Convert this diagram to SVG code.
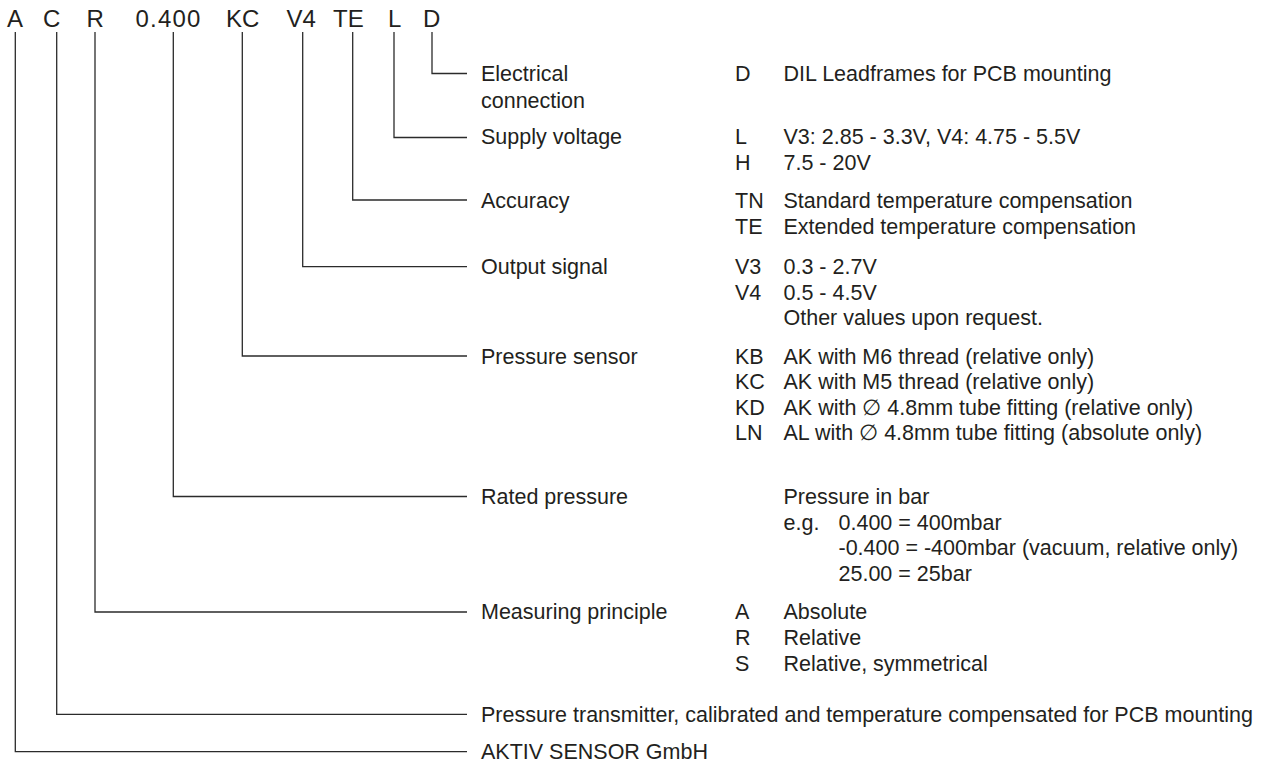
<svg xmlns="http://www.w3.org/2000/svg" width="1266" height="765" viewBox="0 0 1266 765">
<style>
text{font-family:"Liberation Sans",Arial,Helvetica,sans-serif;fill:#231f20}
.h{font-size:24px}
.t{font-size:21.5px}
.c{fill:none;stroke:#2b2b2b;stroke-width:1.3}
</style>
<rect width="1266" height="765" fill="#fff"/>
<g id="code">
<text class="h" x="7" y="27">A</text>
<text class="h" x="43" y="27">C</text>
<text class="h" x="86.5" y="27">R</text>
<text class="h" x="135.5" y="27" letter-spacing="1.2">0.400</text>
<text class="h" x="226" y="27">KC</text>
<text class="h" x="286.5" y="27">V4</text>
<text class="h" x="333" y="27">TE</text>
<text class="h" x="388" y="27">L</text>
<text class="h" x="423" y="27">D</text>
</g>
<g id="connectors">
<path class="c" d="M432,32V73.5H467"/>
<path class="c" d="M394,32V137.5H467"/>
<path class="c" d="M352.7,32V200H467"/>
<path class="c" d="M302.7,32V266.7H467"/>
<path class="c" d="M242.3,32V356H467"/>
<path class="c" d="M173.3,32V496.5H467"/>
<path class="c" d="M95,32V612H467"/>
<path class="c" d="M56.7,32V714.3H467"/>
<path class="c" d="M15.3,32V751.7H467"/>
</g>
<g id="electrical" class="t">
<text class="t" x="481" y="81">Electrical</text>
<text class="t" x="481" y="107.5">connection</text>
<text class="t" x="735" y="81">D</text>
<text class="t" x="783.5" y="81">DIL Leadframes for PCB mounting</text>
</g>
<g id="supply">
<text class="t" x="481" y="144">Supply voltage</text>
<text class="t" x="735" y="144">L</text>
<text class="t" x="783.5" y="144">V3: 2.85 - 3.3V, V4: 4.75 - 5.5V</text>
<text class="t" x="735" y="170">H</text>
<text class="t" x="783.5" y="170">7.5 - 20V</text>
</g>
<g id="accuracy">
<text class="t" x="481" y="207.5">Accuracy</text>
<text class="t" x="735" y="207.5">TN</text>
<text class="t" x="783.5" y="207.5">Standard temperature compensation</text>
<text class="t" x="735" y="234">TE</text>
<text class="t" x="783.5" y="234">Extended temperature compensation</text>
</g>
<g id="output">
<text class="t" x="481" y="274">Output signal</text>
<text class="t" x="735" y="274">V3</text>
<text class="t" x="783.5" y="274">0.3 - 2.7V</text>
<text class="t" x="735" y="299.5">V4</text>
<text class="t" x="783.5" y="299.5">0.5 - 4.5V</text>
<text class="t" x="783.5" y="325">Other values upon request.</text>
</g>
<g id="sensor">
<text class="t" x="481" y="363.5">Pressure sensor</text>
<text class="t" x="735" y="363.5">KB</text>
<text class="t" x="783.5" y="363.5">AK with M6 thread (relative only)</text>
<text class="t" x="735" y="389">KC</text>
<text class="t" x="783.5" y="389">AK with M5 thread (relative only)</text>
<text class="t" x="735" y="414.5">KD</text>
<text class="t" x="783.5" y="414.5">AK with ∅ 4.8mm tube fitting (relative only)</text>
<text class="t" x="735" y="440">LN</text>
<text class="t" x="783.5" y="440">AL with ∅ 4.8mm tube fitting (absolute only)</text>
</g>
<g id="rated">
<text class="t" x="481" y="503.5">Rated pressure</text>
<text class="t" x="783.5" y="503.5">Pressure in bar</text>
<text class="t" x="783.5" y="529.5">e.g.</text>
<text class="t" x="838.5" y="529.5">0.400 = 400mbar</text>
<text class="t" x="838.5" y="555">-0.400 = -400mbar (vacuum, relative only)</text>
<text class="t" x="838.5" y="581">25.00 = 25bar</text>
</g>
<g id="principle">
<text class="t" x="481" y="619">Measuring principle</text>
<text class="t" x="735" y="619">A</text>
<text class="t" x="783.5" y="619">Absolute</text>
<text class="t" x="735" y="645">R</text>
<text class="t" x="783.5" y="645">Relative</text>
<text class="t" x="735" y="671">S</text>
<text class="t" x="783.5" y="671">Relative, symmetrical</text>
</g>
<g id="type">
<text class="t" x="481" y="721.5">Pressure transmitter, calibrated and temperature compensated for PCB mounting</text>
</g>
<g id="maker">
<text class="t" x="481" y="759">AKTIV SENSOR GmbH</text>
</g>
</svg>
